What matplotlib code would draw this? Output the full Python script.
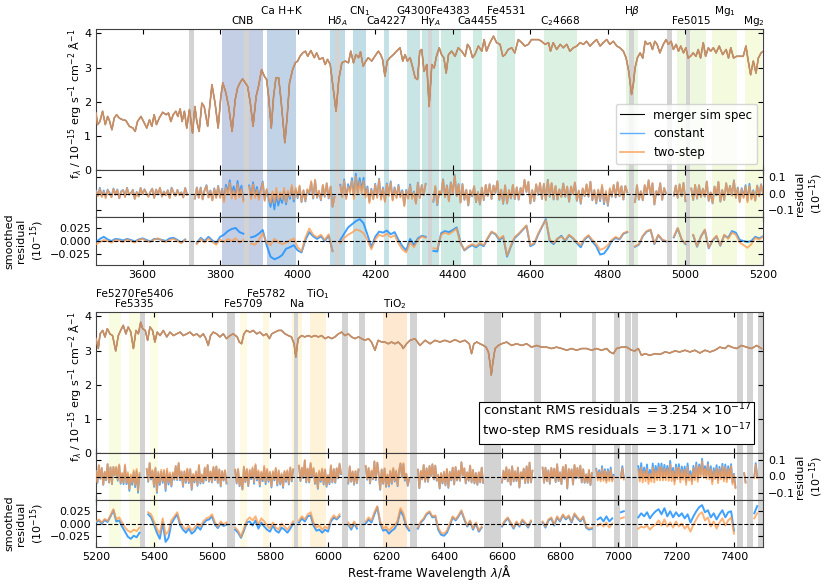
import numpy as np
import matplotlib
matplotlib.use('Agg')
import matplotlib.pyplot as plt
from matplotlib.transforms import blended_transform_factory

plt.rcParams['font.family'] = ['DejaVu Sans']
plt.rcParams['mathtext.fontset'] = 'dejavusans'

# ---------------- data ----------------
wave_top = [3480,3484,3490,3497,3504,3510,3514,3521,3527,3533,
            3540,3549,3557,3566,3575,3581,3587,3596,3605,3611,
            3618,3624,3630,3636,3643,3652,3661,3667,3673,3679,
            3686,3691,3697,3702,3708,3714,3721,3729,3735,3740,
            3746,3753,3759,3768,3779,3787,3795,3802,3807,3815,
            3822,3831,3839,3845,3851,3858,3865,3871,3878,3885,
            3893,3899,3907,3914,3920,3925,3932,3938,3944,3951,
            3957,3967,3973,3979,3987,3994,4000,4006,4013,4020,
            4026,4034,4043,4049,4056,4065,4071,4077,4084,4090,
            4099,4106,4114,4123,4131,4137,4144,4150,4157,4162,
            4169,4176,4182,4191,4199,4208,4214,4219,4225,4231,
            4238,4247,4255,4264,4271,4277,4283,4290,4297,4303,
            4309,4315,4320,4326,4333,4339,4346,4352,4358,4365,
            4371,4377,4383,4389,4397,4406,4414,4423,4432,4438,
            4444,4451,4457,4466,4475,4481,4487,4496,4505,4513,
            4522,4529,4535,4543,4552,4560,4569,4578,4586,4595,
            4603,4612,4621,4629,4638,4647,4652,4659,4668,4677,
            4685,4694,4702,4711,4720,4728,4737,4745,4754,4762,
            4771,4780,4788,4797,4805,4814,4823,4831,4840,4847,
            4853,4857,4861,4866,4870,4876,4883,4890,4896,4902,
            4909,4915,4921,4927,4934,4943,4950,4956,4963,4969,
            4976,4982,4988,4995,5001,5007,5013,5020,5027,5033,
            5039,5046,5052,5059,5065,5072,5079,5087,5096,5105,
            5111,5117,5124,5132,5141,5149,5156,5162,5168,5175,
            5182,5188,5195,5201]
flux_top = [1.67,1.33,1.42,1.72,1.33,1.57,1.47,1.18,1.52,1.62,
            1.52,1.47,1.45,1.28,1.23,1.13,1.42,1.57,1.37,1.23,
            1.47,1.28,1.62,1.33,1.52,1.69,1.62,1.67,1.42,1.62,
            1.72,1.57,1.79,1.42,1.72,1.23,1.77,1.08,1.86,1.42,
            1.13,1.96,1.86,1.28,2.50,1.96,1.23,2.16,2.55,2.26,
            1.86,1.13,2.06,2.40,2.55,2.67,2.55,2.45,1.96,1.28,
            2.16,2.45,2.94,2.75,2.65,2.16,1.23,2.16,2.70,2.70,
            2.06,0.80,1.57,2.55,2.94,3.14,3.19,3.33,3.43,3.48,
            3.33,3.50,3.29,3.43,3.24,3.29,3.09,3.24,3.09,2.55,
            1.72,2.65,3.14,3.19,3.14,3.48,3.14,3.38,3.29,3.46,
            3.04,3.19,3.29,3.19,3.33,3.48,3.38,3.24,2.75,3.19,
            3.29,3.38,3.48,3.58,3.19,3.38,3.19,3.29,2.99,2.70,
            2.65,3.48,3.53,2.89,3.09,1.86,3.09,2.99,3.33,3.58,
            3.38,3.29,2.84,3.38,3.48,3.33,3.58,3.48,3.33,3.68,
            3.58,3.29,3.38,3.63,3.48,3.82,3.48,3.73,3.92,3.73,
            3.68,3.33,3.38,3.53,3.58,3.43,3.82,3.73,3.63,3.68,
            3.82,3.82,3.82,3.77,3.68,3.73,3.48,3.73,3.53,3.68,
            3.58,3.68,3.48,3.58,3.63,3.73,3.68,3.77,3.63,3.73,
            3.82,3.63,3.73,3.82,3.68,3.77,3.63,3.58,3.48,3.28,
            2.94,2.60,2.21,2.55,2.99,3.28,3.43,3.28,3.77,3.68,
            3.73,3.53,3.77,3.68,3.43,3.68,3.82,3.68,3.77,3.53,
            3.68,3.48,3.63,3.43,3.58,3.28,3.33,3.43,3.33,3.53,
            3.28,3.73,3.33,3.58,3.48,3.58,3.43,3.63,3.38,3.53,
            3.28,3.58,3.28,3.33,3.33,3.33,3.63,3.19,2.79,3.19,
            2.84,3.28,3.43,3.48]

wave_bot = [5200,5208,5214,5223,5231,5239,5248,5257,5268,5277,
            5285,5294,5303,5311,5320,5329,5338,5346,5354,5361,
            5370,5378,5386,5395,5403,5411,5421,5432,5444,5455,
            5467,5478,5490,5501,5513,5524,5536,5547,5559,5570,
            5579,5587,5595,5604,5616,5627,5639,5650,5662,5673,
            5687,5694,5702,5710,5719,5731,5742,5754,5765,5777,
            5788,5798,5806,5817,5829,5840,5852,5863,5874,5883,
            5889,5897,5909,5920,5932,5943,5955,5967,5978,5990,
            6001,6013,6024,6036,6047,6058,6070,6081,6093,6105,
            6116,6128,6139,6150,6162,6173,6185,6196,6208,6219,
            6231,6242,6254,6259,6271,
            6283,6300,6317,6335,6352,6369,6386,6403,6421,6438,
            6455,6472,6487,6495,6503,6513,6524,6536,6545,6553,
            6559,6563,6568,6576,6587,6599,6616,6633,6650,6668,
            6685,6702,6719,6737,6754,6771,6788,6806,6823,6840,
            6857,6875,6892,6909,6926,6943,6961,6972,6984,6995,
            7012,7030,7047,7058,7070,7081,7093,7110,7127,7145,
            7162,7179,7196,7213,7231,7248,7265,7282,7300,7317,
            7334,7351,7369,7380,7392,7409,7426,7443,7461,7478,
            7495]
flux_bot = [3.35,3.06,3.49,3.59,3.40,3.64,3.49,3.44,2.99,3.44,
            3.59,3.74,3.49,3.69,3.54,3.06,3.59,3.49,3.83,3.64,
            3.59,3.30,3.69,3.59,3.25,3.54,3.44,3.59,3.40,3.54,
            3.44,3.49,3.54,3.44,3.49,3.54,3.44,3.49,3.40,3.49,
            3.35,3.15,3.44,3.54,3.49,3.40,3.49,3.35,3.44,3.49,
            3.40,3.25,3.20,3.49,3.59,3.54,3.59,3.49,3.54,3.44,
            3.49,3.35,3.49,3.54,3.59,3.59,3.49,3.44,3.40,3.20,
            2.81,3.35,3.44,3.40,3.44,3.40,3.44,3.40,3.44,3.35,
            3.40,3.35,3.40,3.49,3.54,3.44,3.49,3.40,3.35,3.40,
            3.35,3.30,3.35,3.25,3.01,3.30,3.25,3.25,3.20,3.25,
            3.20,3.25,3.15,3.06,3.20,
            3.30,3.35,3.15,3.30,3.20,3.30,3.25,3.30,3.25,3.32,
            3.25,3.30,3.20,2.91,3.20,3.25,3.20,3.15,3.10,2.96,
            2.62,2.28,2.62,3.06,3.15,3.20,3.25,3.15,3.20,3.15,
            3.20,3.10,3.15,3.10,3.10,3.06,3.10,3.06,3.01,3.06,
            3.01,3.06,3.06,3.01,3.06,3.01,3.06,2.96,2.91,3.06,
            3.10,3.10,3.01,2.99,3.06,2.86,2.91,2.86,2.91,2.89,
            2.96,2.93,2.99,2.96,3.01,2.96,3.01,2.93,3.01,2.96,
            3.01,3.10,3.06,3.15,3.10,3.06,3.15,3.10,3.06,3.15,
            3.06]

# smoothed residuals on a 10 A grid, units of 1e-3 (x 1e-15)
smooth_two_top = [-6,-2,2,0,-3,2,1,-2,3,0,
                  -3,2,4,0,-2,3,5,1,-2,2,
                  4,0,-4,2,0,0,-6,4,-3,5,
                  -2,-7,3,-2,4,0,5,-3,2,0,
                  -5,-7,2,15,-3,-8,4,-2,-6,-3,
                  1,5,-12,-20,6,24,12,7,12,2,
                  13,-20,0,-4,6,12,16,22,20,15,
                  2,-16,3,12,9,14,7,11,-4,-16,
                  -22,-3,-12,2,9,6,0,-14,-15,12,
                  16,13,18,24,-5,-17,-10,-6,-10,-4,
                  -8,6,18,14,4,10,-28,-8,8,14,
                  22,30,-8,-4,14,28,40,3,-4,5,
                  8,2,12,6,-2,-8,5,11,2,-6,
                  -17,-14,-8,2,8,4,15,18,0,-10,
                  -6,10,19,22,-5,12,3,0,0,8,
                  25,4,-5,0,12,-10,8,22,-13,2,
                  10,-8,12,4,16,12,-3,-8,-13,-6,
                  6,3,8]
smooth_const_top = [-2,4,8,3,0,4,3,1,4,2,
                    -1,3,5,2,-1,4,4,2,0,5,
                    6,2,-3,3,0,0,-4,6,0,8,
                    1,-4,8,12,19,23,25,17,14,8,
                    7,9,14,21,-8,-30,-35,-32,-27,-15,
                    -12,-8,-18,-22,2,17,9,4,9,0,
                    10,-19,0,2,14,26,32,38,42,34,
                    12,-12,8,18,16,20,13,17,2,-10,
                    -18,4,-8,5,10,8,0,-19,-20,15,
                    19,17,21,26,-3,-18,-12,-8,-12,-6,
                    -10,5,17,13,2,8,-30,-10,6,13,
                    21,29,-10,-6,12,27,42,0,-6,4,
                    10,0,11,5,-4,-12,3,10,-1,-10,
                    -26,-24,-14,0,6,3,14,17,0,-11,
                    -7,9,18,21,-6,11,2,-1,0,7,
                    24,3,-6,0,11,-11,9,21,-14,1,
                    9,-9,11,6,19,16,2,0,-2,0,
                    8,5,9]
smooth_two_bot = [4,8,2,9,5,16,28,8,12,2,
                  -8,-14,-17,-12,-15,-8,0,6,22,18,
                  4,-10,-20,10,-22,-15,6,14,22,2,
                  -6,-12,-4,-14,-8,0,-6,4,10,12,
                  18,2,-6,4,-2,2,0,0,-8,-14,
                  -26,-10,6,12,6,14,-2,10,4,-4,
                  -10,2,-8,-12,0,-6,-12,-4,4,0,
                  6,14,8,18,22,2,-8,-4,-12,-6,
                  -10,8,16,10,18,0,0,2,-8,4,
                  -6,0,0,4,12,6,22,34,4,-10,
                  -6,-14,-8,-4,6,30,20,-2,-10,0,
                  0,-8,4,10,20,24,14,16,-8,-18,
                  -20,-14,0,14,8,16,26,10,-4,6,
                  -10,2,-14,-6,0,0,0,0,0,0,
                  -4,6,12,2,-8,4,-4,8,2,-6,
                  6,0,0,0,4,-6,8,12,-2,14,
                  6,18,10,16,4,20,12,6,14,-6,
                  -10,-8,2,-4,0,-6,2,-8,0,0,
                  0,10,12,0,0,0,0,-10,-6,-8,
                  -4,-12,-6,-2,6,-4,8,-6,2,-8,
                  4,-6,0,-10,-4,-16,-2,8,18,22,
                  6,12,-6,4,-10,2,10,-4,6,12,
                  -20,0,0,0,-8,0,0,10,20,0,
                  0]
smooth_const_bot = [2,6,0,7,3,14,26,4,6,-6,
                    -16,-26,-30,-24,-27,-18,0,2,18,12,
                    -2,-18,-30,2,-36,-28,0,10,18,-3,
                    -12,-18,-10,-20,-15,-6,-12,0,6,8,
                    14,-2,-9,0,-5,-2,0,0,-12,-18,
                    -28,-14,2,4,-4,6,-10,2,-6,-12,
                    -16,-4,-14,-18,-8,-12,-18,-10,0,0,
                    2,10,4,14,16,-4,-14,-12,-18,-12,
                    -16,4,12,8,14,0,0,-2,-12,0,
                    -10,0,0,0,8,2,18,32,0,-14,
                    -12,-20,-14,-10,2,26,14,-6,-14,0,
                    0,-10,2,8,18,22,12,14,-12,-22,
                    -24,-18,-4,12,6,14,24,8,-6,4,
                    -12,0,-16,-8,0,0,0,0,0,0,
                    -6,4,10,0,-10,2,-6,6,0,-8,
                    4,0,0,0,2,-8,6,10,-4,12,
                    4,16,8,14,2,18,10,4,12,-8,
                    -12,-10,6,8,12,4,14,4,10,0,
                    0,22,24,0,0,0,0,12,20,14,
                    22,10,18,24,28,18,30,14,24,12,
                    22,14,20,10,18,2,14,24,32,36,
                    22,26,12,20,8,18,26,12,22,24,
                    -14,0,0,0,-4,0,0,20,34,0,
                    0]

# raw residual fluctuations on a 5 A grid, units of 1e-2 (x 1e-15)
resid_noise_top = [2,-1,3,-2,1,-3,2,0,-2,3,-1,2,-3,1,2,
                   -2,3,-1,0,2,-3,1,-2,3,-1,2,0,-2,1,3,
                   -3,2,-1,3,-2,1,-1,2,-3,3,0,-2,2,-1,1,
                   -2,3,-1,0,0,0,-3,4,-2,3,-4,2,5,-3,1,
                   -4,3,-2,5,-3,2,-5,4,-1,6,-3,2,-4,5,-2,
                   3,-5,2,-1,4,-3,6,-2,3,-4,1,5,-6,3,-2,
                   -5,2,-6,3,-4,1,-3,4,-5,2,-2,5,-4,3,-1,
                   6,-3,4,-5,2,-2,5,-4,7,-3,1,-5,4,-2,6,
                   -4,3,-6,0,0,-3,5,-2,7,-4,3,-1,6,-5,8,
                   -3,5,-2,6,-4,3,-6,4,-2,5,-3,7,-5,2,-6,
                   4,-3,6,-5,2,-4,5,-2,3,-6,4,-1,5,-3,2,
                   -5,6,-3,4,-2,5,-4,0,0,-3,6,-5,3,-2,7,
                   -4,3,-6,5,-2,9,-4,3,-5,6,-2,4,-6,3,-1,
                   5,-4,2,-6,4,-3,6,-2,5,-5,3,-1,6,-4,2,
                   -7,4,-3,5,-2,6,-4,3,-5,2,-3,6,-2,4,-5,
                   3,-4,6,-2,5,-6,3,-8,4,-2,6,-3,5,-4,2,
                   -3,5,-2,4,-6,3,-1,6,-4,2,-5,4,-2,5,-3,
                   6,-4,2,-5,3,-2,7,-4,3,-6,4,-2,5,-3,6,
                   -2,4,-5,3,-1,0,0,5,-4,6,-3,2,-5,4,-2,
                   6,-3,4,-6,2,-2,5,-4,3,0,0,-3,5,-2,4,
                   -5,3,-2,6,-4,0,0,3,-5,4,-2,6,-3,2,-4,
                   5,-3,2,-6,4,-2,6,-4,3,-5,5,-1,4,-3,6,
                   -4,2,-5,3,-2,5,-4,6,-3,2,-5,4,-2,5,-1]
resid_noise_bot = [3,-4,6,-2,5,-5,2,-3,7,-4,4,-6,3,-2,5,
                   -3,6,-5,2,-4,8,-3,4,-6,3,-2,5,-4,6,-7,
                   3,-2,0,0,0,4,-5,6,-3,2,-6,5,-8,4,-2,
                   6,-4,3,-5,7,-2,4,-6,2,-3,5,-4,6,-2,3,
                   -5,4,-2,6,-3,5,-6,3,-2,4,-5,7,-3,2,-4,
                   5,-3,6,-4,2,-5,4,-2,6,-3,5,-6,3,-2,4,
                   -4,0,0,0,0,0,5,-3,6,-4,2,-5,7,-2,4,
                   -6,3,-2,5,-4,6,-3,4,-5,2,-3,6,-4,5,-2,
                   4,-5,3,-2,6,-4,5,-3,2,-6,4,-2,5,-3,6,
                   -2,4,0,0,-5,6,-3,4,-2,9,-4,3,-5,6,-2,
                   5,-4,3,-6,4,-2,6,-3,5,-5,2,-3,6,-4,3,
                   -5,4,-2,6,0,0,0,-3,5,-4,6,-2,4,-5,3,
                   -3,5,0,0,0,-4,6,-2,4,-5,3,-2,7,-4,5,
                   -2,-8,4,-3,6,-5,2,-4,5,-3,6,-2,4,-6,3,
                   5,-3,6,-4,2,-5,0,0,0,0,4,-3,5,-6,3,
                   -2,6,-4,3,-5,4,-2,6,-3,5,-4,2,-6,4,-2,
                   5,-3,6,-5,3,-2,4,-6,5,-3,2,-4,6,-2,4,
                   -5,3,-2,6,-4,5,-3,2,-5,4,-2,6,-3,0,0,
                   0,0,0,0,0,0,0,0,0,0,-3,4,-2,5,-4,
                   3,-5,6,-2,4,-3,5,-6,3,-2,4,-4,6,-3,9,
                   -4,3,0,0,0,0,0,-3,5,-4,6,-2,3,-5,4,
                   -2,5,-3,6,-4,2,-5,4,-3,6,-8,3,-2,4,-5,
                   5,-3,4,-2,6,-4,3,-5,2,-3,5,-4,3,0,0,
                   4,-2,3,-3,5,-2,4,-4,3,-2,5,-3,0,0,0,
                   0,3,-2,4,-3,0,0,0,0,0,0,-2,4,-3,5,
                   -2,6,-3,4,-2,5,-4,3,-2,6,-3,4,-2,5,-3,
                   6,-2,4,-3,5,-2,7,-3,4,-4,5,-2,6,-3,4,
                   -2,5,-4,6,-2,3,-3,5,-2,6,-4,4,-2,7,-3,
                   4,-2,6,-3,5,-4,3,-2,6,-3,4,-2,5,-4,6,
                   -3,4,-2,5,-6,3,-5,0,0,0,0,0,2,-3,0,
                   0,0,0,4,-2,6,-3,7,8,0,0]

index_names = ['CNB', 'Ca H+K', r'H$\delta_A$', r'CN$_1$', 'Ca4227', 'G4300',
               r'H$\gamma_A$', 'Fe4383', 'Ca4455', 'Fe4531', r'C$_2$4668',
               r'H$\beta$', 'Fe5015', r'Mg$_1$', r'Mg$_2$', 'Fe5270', 'Fe5335',
               'Fe5406', 'Fe5709', 'Fe5782', 'Na', r'TiO$_1$', r'TiO$_2$']
index_lo = [3806, 3921, 4083.5, 4142.125, 4222.25, 4281.375, 4319.75, 4369.125,
            4452.125, 4514.25, 4634.0, 4847.875, 4977.75, 5069.125, 5154.125,
            5245.65, 5312.125, 5387.5, 5696.625, 5776.625, 5876.875, 5936.625,
            6189.625]
index_hi = [3910, 3995, 4122.25, 4177.125, 4234.75, 4316.375, 4363.5, 4420.375,
            4474.625, 4559.25, 4720.25, 4876.625, 5054.0, 5134.125, 5196.625,
            5285.65, 5352.125, 5415.0, 5720.375, 5796.625, 5909.375, 5994.125,
            6272.125]
mask_lo = [3719, 3862, 4096, 4335, 4855, 4953, 5001,
           5352, 5653, 5884, 6049, 6108, 6282, 6538, 6710, 6911, 6986, 7024, 7049,
           7409, 7444, 7484]
mask_hi = [3733, 3874, 4108, 4347, 4867, 4965, 5013,
           5370, 5679, 5895, 6068, 6128, 6306, 6596, 6736, 6924, 7007, 7046, 7068,
           7432, 7465, 7500]
rms_constant = 3.254
rms_twostep = 3.171

# ---------------- styles ----------------
C_SPEC = 'black'
C_CONST = 'dodgerblue'
C_TWO = '#ff9a4a'
cmap = plt.get_cmap('Spectral_r')
FS = 8

fig = plt.figure(figsize=(8.31, 5.84), dpi=100)
L, W = 96 / 831, 667 / 831


def fa(top_px, bot_px):
    return [L, 1 - bot_px / 584, W, (bot_px - top_px) / 584]


panels = [
    dict(xlim=(3480, 5200), xt=range(3600, 5201, 200), wave=wave_top, flux=flux_top,
         sT=smooth_two_top, sC=smooth_const_top, noise=resid_noise_top,
         px=(29, 170, 217, 265)),
    dict(xlim=(5200, 7500), xt=range(5200, 7401, 200), wave=wave_bot, flux=flux_bot,
         sT=smooth_two_bot, sC=smooth_const_bot, noise=resid_noise_bot,
         px=(312, 453, 500, 547)),
]


def masked(grid, vals):
    v = np.array(vals, dtype=float)
    for lo, hi in zip(mask_lo, mask_hi):
        v[(grid >= lo) & (grid <= hi)] = np.nan
    return v


def style(ax, xt, xlim):
    ax.set_xlim(*xlim)
    ax.set_xticks(list(xt))
    ax.tick_params(direction='in', top=True, right=True, labelsize=FS,
                   length=3.5, width=0.8)
    for s in ax.spines.values():
        s.set_color('0.25')


def shade(ax, xlim):
    for k, (lo, hi) in enumerate(zip(index_lo, index_hi)):
        if hi < xlim[0] or lo > xlim[1]:
            continue
        t = 0.05 + ((lo + hi) / 2 - 3858) * 0.000265
        ax.axvspan(lo, hi, color=cmap(t), alpha=0.32, lw=0, zorder=0)
    for lo, hi in zip(mask_lo, mask_hi):
        if hi < xlim[0] or lo > xlim[1]:
            continue
        ax.axvspan(lo, hi, color='#d3d3d3', lw=0, zorder=0.5)


for pi, p in enumerate(panels):
    t0, t1, t2, t3 = p['px']
    axs = fig.add_axes(fa(t0, t1))
    axr = fig.add_axes(fa(t1, t2))
    axm = fig.add_axes(fa(t2, t3))
    for ax in (axs, axr, axm):
        shade(ax, p['xlim'])
        style(ax, p['xt'], p['xlim'])

    # spectrum
    l1, = axs.plot(p['wave'], p['flux'], color=C_SPEC, lw=0.8, zorder=2,
                   label='merger sim spec')
    l2, = axs.plot(p['wave'], p['flux'], color=C_CONST, lw=1.0, alpha=0.7, zorder=3,
                   label='constant')
    l3, = axs.plot(p['wave'], p['flux'], color=C_TWO, lw=1.3, alpha=0.75, zorder=4,
                   label='two-step')
    axs.set_ylim(0, 4.13)
    axs.set_yticks([0, 1, 2, 3, 4])
    axs.tick_params(labelbottom=False)
    axs.set_ylabel(r'f$_\lambda$ / 10$^{-15}$ erg s$^{-1}$ cm$^{-2}$ Å$^{-1}$',
                   fontsize=FS)
    axs.yaxis.set_label_coords(-0.017, 0.47)

    # index labels
    tr = blended_transform_factory(axs.transData, axs.transAxes)
    for k, (name, lo, hi) in enumerate(zip(index_names, index_lo, index_hi)):
        c = (lo + hi) / 2
        if c < p['xlim'][0] or c > p['xlim'][1]:
            continue
        yy = 1.13 if k % 2 == 1 else 1.058
        axs.text(c, yy, name, transform=tr, ha='center', va='center',
                 fontsize=7.6, clip_on=False)

    # residuals
    sgrid = np.arange(p['xlim'][0], p['xlim'][1] + 1, 10)
    rgrid = np.arange(p['xlim'][0], p['xlim'][1] + 1, 5)
    sT = np.array(p['sT'], float) * 1e-3
    sC = np.array(p['sC'], float) * 1e-3
    nz = np.array(p['noise'], float) * 1e-2
    n = len(rgrid)
    rT = nz + np.repeat(sT, 2)[:n]
    rC = nz + np.repeat(sC, 2)[:n]
    axr.plot(rgrid, masked(rgrid, rC), color=C_CONST, lw=1.3, alpha=0.8, zorder=3)
    axr.plot(rgrid, masked(rgrid, rT), color=C_TWO, lw=1.3, alpha=0.8, zorder=4)
    axr.axhline(0, color='k', ls='--', lw=0.8, zorder=6)
    axr.set_ylim(-0.14, 0.14)
    axr.set_yticks([-0.1, 0.0, 0.1])
    axr.set_yticklabels(['\u22120.1', '0.0', '0.1'])
    axr.tick_params(labelbottom=False, labelleft=False, labelright=True)
    axr.yaxis.set_label_position('right')
    axr.set_ylabel('residual\n(10$^{-15}$)', fontsize=FS)
    axr.yaxis.set_label_coords(1.048, 0.5)

    axm.plot(sgrid, masked(sgrid, sC), color=C_CONST, lw=1.4, alpha=0.85, zorder=3)
    axm.plot(sgrid, masked(sgrid, sT), color=C_TWO, lw=1.4, alpha=0.75, zorder=4)
    axm.axhline(0, color='k', ls='--', lw=0.8, zorder=6)
    axm.set_ylim(-0.046, 0.046)
    axm.set_yticks([-0.025, 0.0, 0.025])
    axm.set_yticklabels(['\u22120.025', '0.000', '0.025'])
    axm.set_ylabel('smoothed\nresidual\n(10$^{-15}$)', fontsize=FS)
    axm.yaxis.set_label_coords(-0.075, 0.5)

    if pi == 0:
        axs.legend(handles=[l1, l2, l3], loc='lower right', fontsize=8.5,
                   framealpha=0.8)
    else:
        axs.text(0.983, 0.085,
                 'constant RMS residuals $= %.3f\\times10^{-17}$\n'
                 'two-step RMS residuals $= %.3f\\times10^{-17}$' % (rms_constant, rms_twostep),
                 transform=axs.transAxes, ha='right', va='bottom', fontsize=9.6,
                 bbox=dict(boxstyle='square,pad=0.2', fc='white', ec='black', lw=0.8),
                 zorder=10)
        axm.set_xlabel(r'Rest-frame Wavelength $\lambda$/Å', fontsize=8.5, labelpad=1)

fig.savefig('out.png', dpi=100)
